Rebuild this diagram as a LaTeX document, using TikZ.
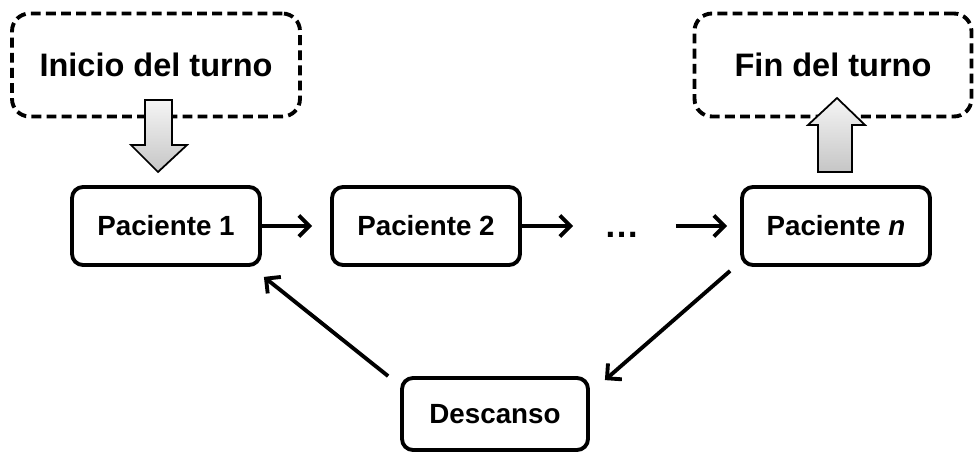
\documentclass[tikz,border=0pt]{standalone}
\usepackage{fontspec}
\setmainfont{Liberation Sans}
\usetikzlibrary{arrows.meta}
\usepackage{xcolor}

\begin{document}
\begin{tikzpicture}[x=0.02cm,y=-0.02cm,
	pbox/.style={draw,line width=2.2pt,rounded corners=0.22cm,minimum width=3.76cm,minimum height=1.56cm,font=\fontsize{15.8}{18}\selectfont\bfseries},
	tbox/.style={draw,line width=2.2pt,dash pattern=on 5.6pt off 3pt,rounded corners=0.35cm,minimum height=2.06cm,font=\fontsize{18.5}{22}\selectfont\bfseries},
	conn/.style={-{Straight Barb[length=6pt,width=12pt]},line width=2.2pt},
	bigarrow/.style={draw,line width=1pt,top color=gray!8,bottom color=gray!45}]
	\useasboundingbox (0,0) rectangle (974,453);
	\node(ini) at (156,65)[tbox,minimum width=5.76cm]{Inicio del turno};
	\node(fin) at (833,65)[tbox,minimum width=5.54cm]{Fin del turno};

	\node(p1) at (166,226)[pbox]{Paciente 1};
	\node(p2) at (426,226)[pbox]{Paciente 2};
	\node(dots) at (622,235)[inner sep=0,font=\fontsize{20}{22}\selectfont\bfseries]{\ldots};
	\node(pn) at (836,226)[pbox]{Paciente \textit{n}};
	\node(des) at (495,414)[pbox,minimum width=3.72cm,minimum height=1.44cm]{Descanso};

	% block arrows
	\draw[bigarrow](145,100) -- (172,100) -- (172,145) -- (187,145) -- (158,172) -- (131,145) -- (145,145) -- cycle;
	\draw[bigarrow](818,172) -- (852,172) -- (852,125) -- (865,125) -- (837,98) -- (808,125) -- (818,125) -- cycle;

	\draw[conn,shorten >=0.36cm](p1.east) -- (p2.west);
	\draw[conn,shorten >=0.62cm](p2.east) -- (p2.east -| dots.west);
	\draw[conn,shorten <=0.72cm,shorten >=0.26cm](pn.west -| dots.east) -- (pn.west);
	\draw[conn]([shift={(-10,4)}]pn.south west) -- ([shift={(15,4)}]des.north east);
	\draw[conn]([shift={(-12,0)}]des.north west) -- ([shift={(2,10)}]p1.south east);
\end{tikzpicture}
\end{document}
